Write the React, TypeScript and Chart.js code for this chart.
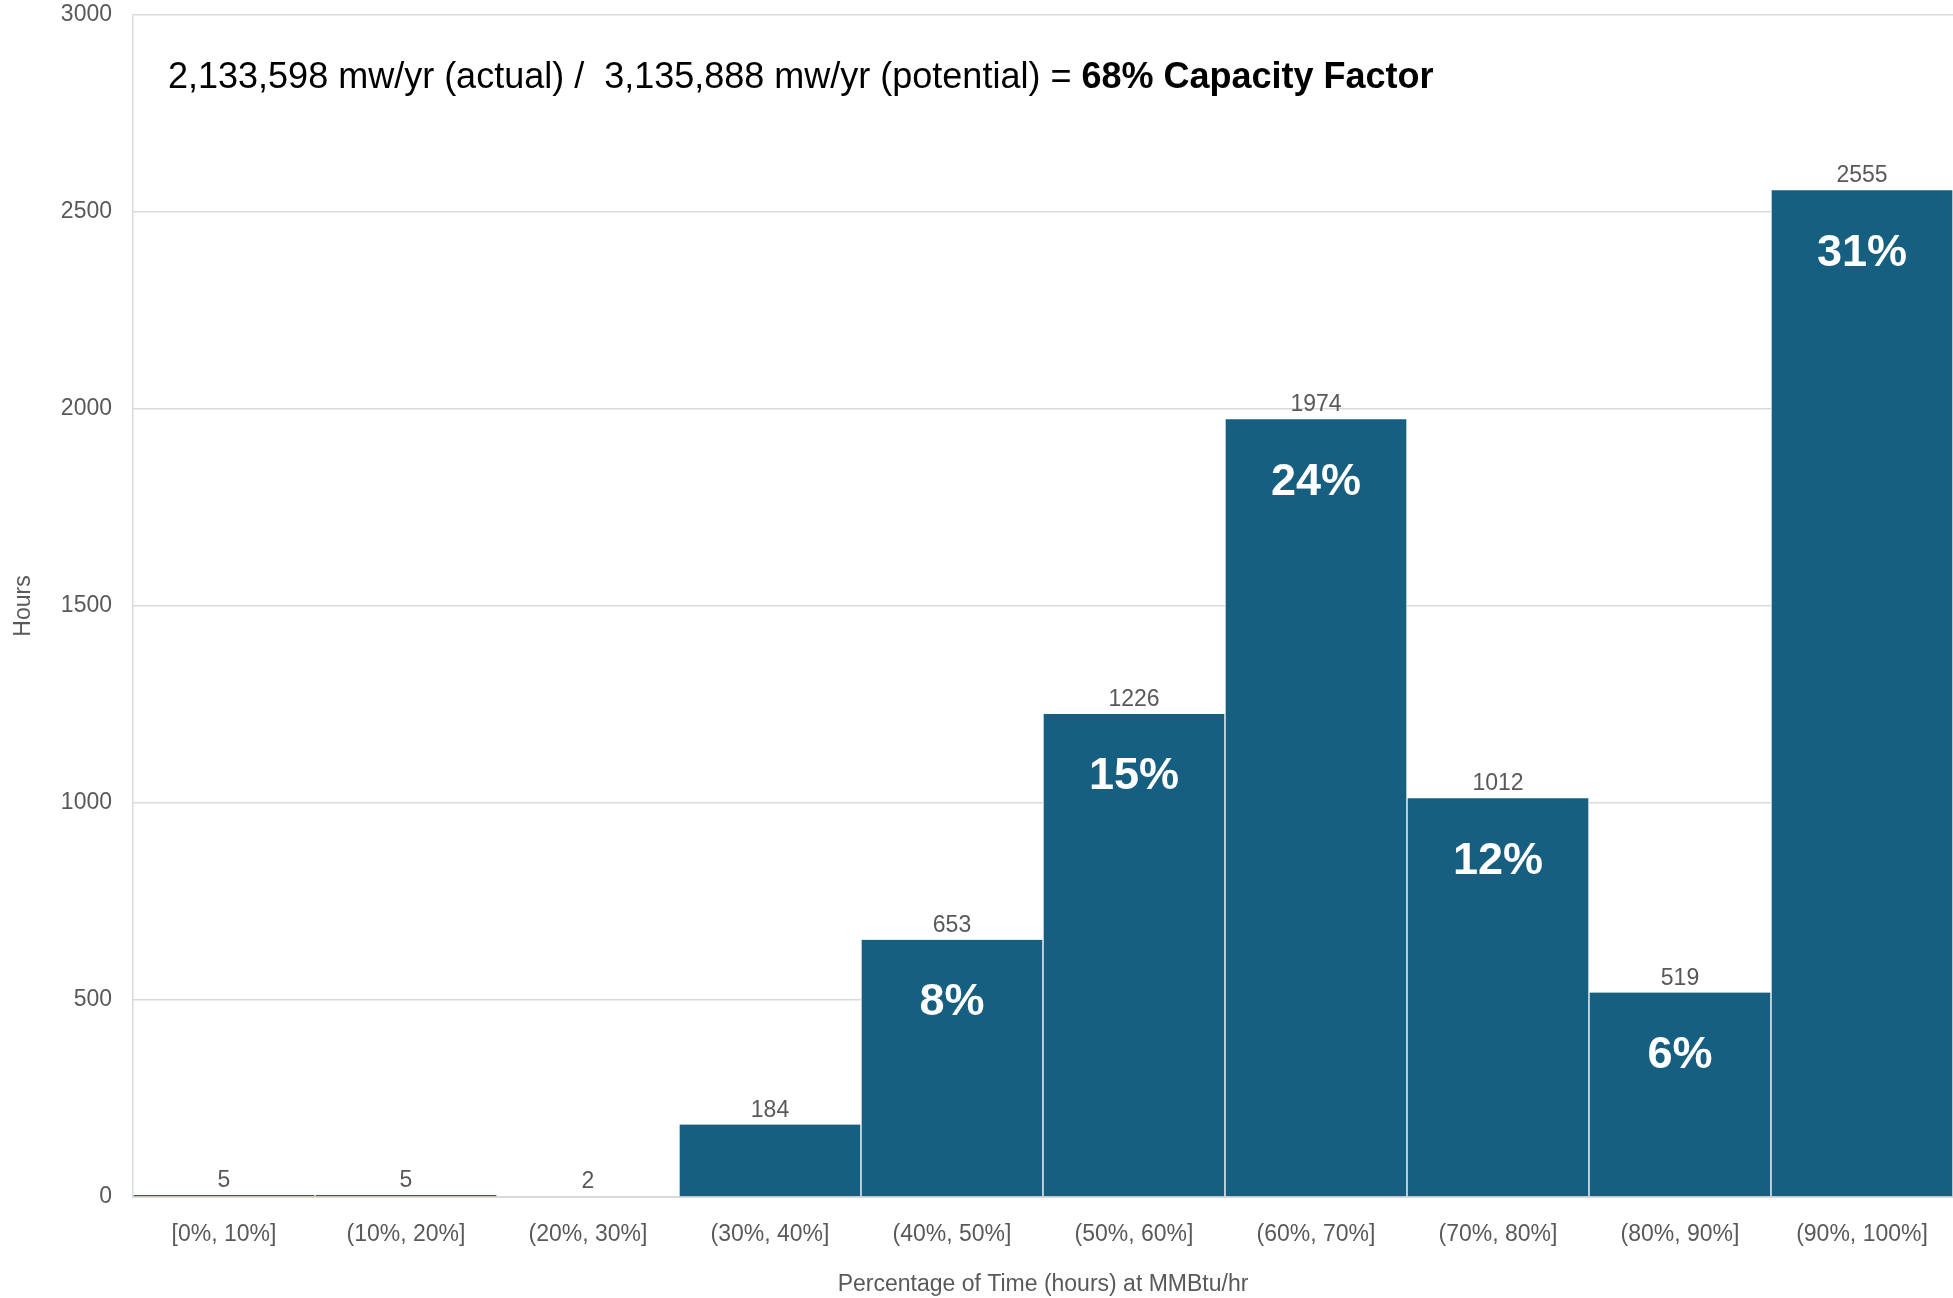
import React, { useEffect, useRef } from "react";
import { Chart, registerables } from "chart.js";

Chart.register(...registerables);

const categories = [
  "[0%, 10%]",
  "(10%, 20%]",
  "(20%, 30%]",
  "(30%, 40%]",
  "(40%, 50%]",
  "(50%, 60%]",
  "(60%, 70%]",
  "(70%, 80%]",
  "(80%, 90%]",
  "(90%, 100%]",
];
const hours = [5, 5, 2, 184, 653, 1226, 1974, 1012, 519, 2555];
const shareLabels = ["", "", "", "", "8%", "15%", "24%", "12%", "6%", "31%"];
const headlineRegular = "2,133,598 mw/yr (actual) /  3,135,888 mw/yr (potential) = ";
const headlineBold = "68% Capacity Factor";
const yAxisTitle = "Hours";
const xAxisTitle = "Percentage of Time (hours) at MMBtu/hr";

const BAR_COLOR = "#175F81";
const GRAY = "#595959";
const SANS = "'Liberation Sans', Arial, sans-serif";

const labelPlugin = {
  id: "barLabels",
  afterDatasetsDraw(chart: any) {
    const ctx = chart.ctx;
    const meta = chart.getDatasetMeta(0);
    ctx.save();
    meta.data.forEach((bar: any, i: number) => {
      ctx.fillStyle = GRAY;
      ctx.font = `23px ${SANS}`;
      ctx.textAlign = "center";
      ctx.textBaseline = "alphabetic";
      ctx.fillText(String(hours[i]), bar.x, bar.y - 8);
      if (shareLabels[i]) {
        ctx.fillStyle = "#ffffff";
        ctx.font = `bold 45px ${SANS}`;
        ctx.textBaseline = "middle";
        ctx.fillText(shareLabels[i], bar.x, bar.y + 63);
      }
    });
    ctx.restore();
  },
  afterDraw(chart: any) {
    const ctx = chart.ctx;
    const area = chart.chartArea;
    ctx.save();
    ctx.fillStyle = "#000000";
    ctx.textAlign = "left";
    ctx.textBaseline = "alphabetic";
    const x0 = area.left + 35;
    const y0 = area.top + 73;
    ctx.font = `36px ${SANS}`;
    ctx.fillText(headlineRegular, x0, y0);
    const w = ctx.measureText(headlineRegular).width;
    ctx.font = `bold 36px ${SANS}`;
    ctx.fillText(headlineBold, x0 + w, y0);
    ctx.restore();
  },
};

export default function App() {
  const canvasRef = useRef<HTMLCanvasElement | null>(null);

  useEffect(() => {
    document.body.style.margin = "0";
    const canvas = canvasRef.current;
    if (!canvas) return;
    const chart = new Chart(canvas, {
      type: "bar",
      data: {
        labels: categories,
        datasets: [
          {
            data: hours,
            backgroundColor: BAR_COLOR,
            borderColor: "#ffffff",
            borderWidth: { left: 1, right: 1, top: 0, bottom: 0 },
            borderSkipped: false,
            barPercentage: 1,
            categoryPercentage: 1,
          },
        ],
      },
      options: {
        animation: false,
        responsive: true,
        maintainAspectRatio: false,
        layout: { padding: 0 },
        plugins: {
          legend: { display: false },
          tooltip: { enabled: false },
        },
        scales: {
          x: {
            grid: { display: false, drawTicks: false },
            border: { display: true, color: "#d9d9d9", width: 2 },
            ticks: {
              color: GRAY,
              font: { family: SANS, size: 23 },
              padding: 24,
              maxRotation: 0,
              autoSkip: false,
            },
            title: {
              display: true,
              text: xAxisTitle,
              color: GRAY,
              font: { family: SANS, size: 23 },
              padding: { top: 0, bottom: 0 },
            },
            afterFit(scale: any) {
              scale.height = 101;
              scale.paddingLeft = 0;
              scale.paddingRight = 0;
            },
          },
          y: {
            min: 0,
            max: 3000,
            ticks: {
              stepSize: 500,
              color: GRAY,
              font: { family: SANS, size: 23 },
              padding: 21,
              callback: (v: any) => String(v),
            },
            grid: { color: "#d9d9d9", lineWidth: 1.5, drawTicks: false },
            border: { display: true, color: "#d9d9d9", width: 1.5 },
            title: {
              display: true,
              text: yAxisTitle,
              color: GRAY,
              font: { family: SANS, size: 23 },
              padding: { top: 10, bottom: 0 },
            },
            afterFit(scale: any) {
              scale.width = 133;
              scale.paddingTop = 15;
              scale.paddingBottom = 0;
            },
          },
        },
      },
      plugins: [labelPlugin],
    });
    return () => chart.destroy();
  }, []);

  return (
    <div style={{ position: "fixed", left: 0, top: 0, width: 1953, height: 1298, background: "#ffffff" }}>
      <canvas ref={canvasRef} />
    </div>
  );
}
